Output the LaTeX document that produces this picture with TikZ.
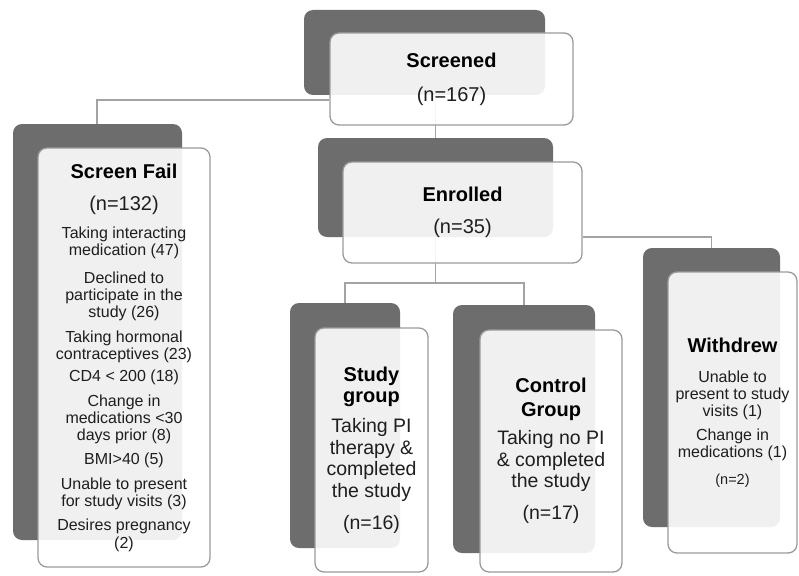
\documentclass[tikz,border=0pt]{standalone}
\usepackage{fontspec}
\setmainfont{Liberation Sans}
\usetikzlibrary{backgrounds}
\definecolor{boxdark}{HTML}{6D6D6D}
\definecolor{boxline}{HTML}{9A9A9A}
\definecolor{connline}{HTML}{A3A3A3}
\definecolor{textcol}{HTML}{1E1E1E}
\newcommand{\ttl}[1]{{\fontsize{20}{17}\selectfont\bfseries\color{black}#1}}
\newcommand{\bignum}[1]{{\fontsize{20}{17}\selectfont #1}}
\begin{document}
\setlength{\lineskiplimit}{-50pt}
\begin{tikzpicture}[x=1pt,y=-1pt,
  darkbox/.style={fill=boxdark, draw=none, rounded corners=9pt, inner sep=0pt},
  lightbox/.style={fill=white, fill opacity=0.9, text opacity=1, draw=boxline, line width=1.3pt,
    rounded corners=9pt, inner sep=0pt, align=center, text=textcol},
  conn/.style={draw=connline, line width=1.5pt}]
\useasboundingbox (0,0) rectangle (799,575);
% Screened
\node[darkbox, minimum width=241pt, minimum height=85pt] (scrD) at (424.5,52.5) {};
\node[lightbox, minimum width=243pt, minimum height=92pt, font=\fontsize{20}{34}\selectfont] (scr) at (451.5,79)
  {{\bfseries\color{black}Screened}\\(n=167)};
% Screen Fail
\node[darkbox, minimum width=169pt, minimum height=416pt] (sfD) at (97.5,332) {};
\node[lightbox, minimum width=172pt, minimum height=419pt, font=\fontsize{16}{17}\selectfont] (sf) at (124,357.5)
  {\ttl{Screen Fail}\\[15pt]\bignum{(n=132)}\\[11pt]Taking interacting\\medication (47)\\[11pt]Declined to\\participate in the\\study (26)\\[8pt]Taking hormonal\\contraceptives (23)\\[5pt]CD4 < 200 (18)\\[8pt]Change in\\medications <30\\days prior (8)\\[7pt]BMI>40 (5)\\[8pt]Unable to present\\for study visits (3)\\[7pt]Desires pregnancy\\[1pt](2)};
% Enrolled
\node[darkbox, minimum width=235pt, minimum height=99pt] (enD) at (435.5,187.5) {};
\node[lightbox, minimum width=239pt, minimum height=101pt, font=\fontsize{20}{32}\selectfont] (en) at (462.5,212.5)
  {{\bfseries\color{black}Enrolled}\\(n=35)};
% Study group
\node[darkbox, minimum width=110pt, minimum height=245pt] (stD) at (345,425.5) {};
\node[lightbox, minimum width=113pt, minimum height=244pt, font=\fontsize{19.5}{21.5}\selectfont] (st) at (371.5,450)
  {\ttl{Study}\\\ttl{group}\\[8.5pt]Taking PI\\therapy \&\\completed\\the study\\[10.5pt](n=16)};
% Control group
\node[darkbox, minimum width=142pt, minimum height=248pt] (coD) at (524,429) {};
\node[lightbox, minimum width=142pt, minimum height=242pt, font=\fontsize{19.5}{21.5}\selectfont] (co) at (551,451)
  {\ttl{Control}\\[2.5pt]\ttl{Group}\\[6.5pt]Taking no PI\\\& completed\\the study\\[10.5pt](n=17)};
% Withdrew
\node[darkbox, minimum width=137pt, minimum height=279pt] (wdD) at (711.5,387.5) {};
\node[lightbox, minimum width=129pt, minimum height=281pt, font=\fontsize{16}{17}\selectfont] (wd) at (732.5,412.5)
  {\ttl{Withdrew}\\[13pt]Unable to\\present to study\\visits (1)\\[7pt]Change in\\medications (1)\\[10pt]{\fontsize{14.5}{17}\selectfont (n=2)}};
% connectors
\coordinate (j1) at (97,100);
\coordinate (j2) at (435.5,283);
\begin{scope}[on background layer]
  \fill[white] (0,0) rectangle (799,575);
  \draw[conn] (scr.west |- j1) -- (j1) -- (sfD.north -| j1);
  \draw[conn] (enD.north |- scrD.south) -- (enD.north);
  \draw[conn] (enD.south) -- (j2);
  \draw[conn] (stD.north) |- (j2) -| (coD.north);
  \draw[conn] (en.east |- enD.south) -| (wdD.north);
\end{scope}
\end{tikzpicture}
\end{document}
